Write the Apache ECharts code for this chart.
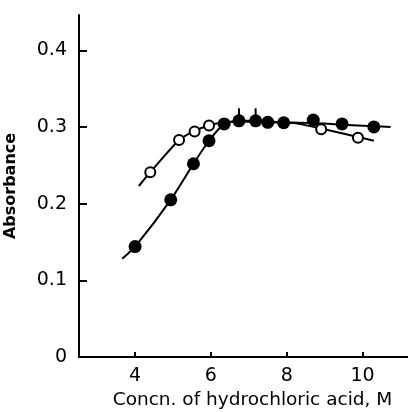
<!DOCTYPE html>
<html><head><meta charset="utf-8">
<script src="https://cdn.jsdelivr.net/npm/echarts@6/dist/echarts.min.js"></script>
<style>html,body{margin:0;padding:0;background:#fff}#c{width:408px;height:412px}</style>
</head><body><div id="c"></div>
<script>
// Filled circles (measured points)
const filledX = [4.0, 4.94, 5.54, 5.95, 6.35, 6.74, 7.18, 7.50, 7.92, 8.70, 9.46, 10.30];
const filledY = [0.144, 0.205, 0.252, 0.282, 0.304, 0.308, 0.308, 0.306, 0.3055, 0.309, 0.304, 0.300];
// Open circles
const openX = [4.40, 5.16, 5.57, 5.95, 8.91, 9.88];
const openY = [0.241, 0.283, 0.294, 0.302, 0.297, 0.286];
// Hand-drawn fitted curves
const filledCurveX = [3.66, 4.0, 4.94, 5.54, 5.95, 6.35, 6.74, 7.18, 7.92, 8.70, 9.46, 10.30, 10.74];
const filledCurveY = [0.128, 0.144, 0.205, 0.252, 0.282, 0.304, 0.308, 0.308, 0.306, 0.305, 0.303, 0.301, 0.300];
const openCurveX = [4.10, 4.40, 5.16, 5.57, 5.95, 6.35, 6.80, 7.50, 8.20, 8.91, 9.88, 10.30];
const openCurveY = [0.223, 0.241, 0.283, 0.295, 0.302, 0.306, 0.307, 0.306, 0.305, 0.298, 0.287, 0.282];
// Points with small vertical marks above
const markX = [6.74, 7.18];
const markY = [0.308, 0.308];
// Ticks
const xTicks = [4, 6, 8, 10];
const yTicks = [0, 0.1, 0.2, 0.3, 0.4];

const zip = (a, b) => a.map((v, i) => [v, b[i]]);
const font = 'DejaVu Sans';
const chart = echarts.init(document.getElementById('c'), null, {renderer: 'canvas'});
chart.setOption({
  animation: false,
  backgroundColor: '#fff',
  grid: {left: 79, right: 0, top: 15, bottom: 55, containLabel: false, outerBoundsMode: 'none'},
  xAxis: {
    type: 'value', min: 2.52, max: 11.2,
    name: 'Concn. of hydrochloric acid, M', nameLocation: 'middle', nameGap: 34,
    nameTextStyle: {fontFamily: font, fontSize: 18.5, color: '#000', padding: [0, 0, 0, 18]},
    axisLine: {show: true, lineStyle: {color: '#000', width: 2}},
    axisTick: {show: true, inside: true, length: 5, customValues: xTicks, lineStyle: {color: '#000', width: 2}},
    axisLabel: {customValues: xTicks, margin: 10, fontFamily: font, fontSize: 19, color: '#000'},
    splitLine: {show: false}
  },
  yAxis: {
    type: 'value', min: 0, max: 0.446,
    name: 'Absorbance', nameLocation: 'middle', nameGap: 60, nameRotate: 90,
    nameTextStyle: {fontFamily: font, fontSize: 16, fontWeight: 'bold', color: '#000'},
    axisLine: {show: true, lineStyle: {color: '#000', width: 2}},
    axisTick: {show: true, inside: true, length: 8, customValues: yTicks, lineStyle: {color: '#000', width: 2}},
    axisLabel: {customValues: yTicks, margin: 12, fontFamily: font, fontSize: 19, color: '#000',
      formatter: v => v === 0 ? '0' : v.toFixed(1)},
    splitLine: {show: false}
  },
  series: [
    {type: 'line', data: zip(filledCurveX, filledCurveY), smooth: 0.2, showSymbol: false,
      lineStyle: {color: '#000', width: 2}, z: 2},
    {type: 'line', data: zip(openCurveX, openCurveY), smooth: 0.2, showSymbol: false,
      lineStyle: {color: '#000', width: 2}, z: 2},
    {type: 'scatter', data: zip(markX, markY), symbol: 'rect', symbolSize: [2, 9], symbolOffset: [0, -8],
      itemStyle: {color: '#000', opacity: 1}, z: 3},
    {type: 'scatter', data: zip(filledX, filledY), symbol: 'circle', symbolSize: 13,
      itemStyle: {color: '#000', opacity: 1}, z: 4},
    {type: 'scatter', data: zip(openX, openY), symbol: 'circle', symbolSize: 10,
      itemStyle: {color: '#fff', borderColor: '#000', borderWidth: 2, opacity: 1}, z: 5}
  ]
});
</script></body></html>
